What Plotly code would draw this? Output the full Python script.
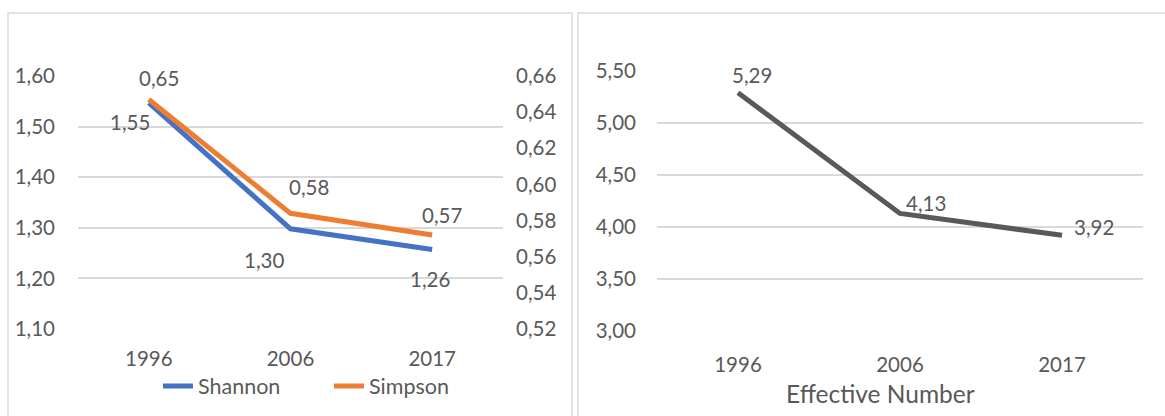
import plotly.graph_objects as go

years = ["1996", "2006", "2017"]
shannon = [1.547, 1.298, 1.257]
simpson = [0.647, 0.584, 0.572]
effective = [5.29, 4.13, 3.92]
shannon_labels = ["1,55", "1,30", "1,26"]
simpson_labels = ["0,65", "0,58", "0,57"]
effective_labels = ["5,29", "4,13", "3,92"]

W, H = 1165, 416
FONT = "Lato"
TXT = "#595959"
GRID = "#D9D9D9"
BLUE = "#4472C4"
ORANGE = "#ED7D31"
GRAY = "#595959"
FS = 20.5


def px_x(p):
    return p / W


def px_y(p):
    return 1 - p / H


fig = go.Figure()
fig.add_trace(go.Scatter(x=years, y=shannon, mode="lines", name="Shannon",
                         line=dict(color=BLUE, width=5), xaxis="x", yaxis="y"))
fig.add_trace(go.Scatter(x=years, y=simpson, mode="lines", name="Simpson",
                         line=dict(color=ORANGE, width=5), xaxis="x", yaxis="y2"))
fig.add_trace(go.Scatter(x=years, y=effective, mode="lines", name="Effective Number",
                         line=dict(color=GRAY, width=5), xaxis="x3", yaxis="y3",
                         showlegend=False))

annotations = []
sh_off = [(-19, -19), (-27, -31), (-2, -29)]
si_off = [(10, 21), (18, 26), (10, 20)]
ef_off = [(14, 18), (26, 10), (32, 8)]
lab_font = dict(family=FONT, size=FS, color=TXT)
for i in range(len(years)):
    annotations.append(dict(x=i, y=shannon[i], xref="x", yref="y", text=shannon_labels[i],
                            showarrow=False, xshift=sh_off[i][0], yshift=sh_off[i][1],
                            font=lab_font))
    annotations.append(dict(x=i, y=simpson[i], xref="x", yref="y2", text=simpson_labels[i],
                            showarrow=False, xshift=si_off[i][0], yshift=si_off[i][1],
                            font=lab_font))
    annotations.append(dict(x=i, y=effective[i], xref="x3", yref="y3", text=effective_labels[i],
                            showarrow=False, xshift=ef_off[i][0], yshift=ef_off[i][1],
                            font=lab_font))

annotations.append(dict(x=px_x(880), y=px_y(393), xref="paper", yref="paper",
                        xanchor="center", yanchor="middle", text="Effective Number",
                        showarrow=False, font=dict(family=FONT, size=24.5, color=TXT)))

shapes = [
    dict(type="rect", xref="paper", yref="paper", x0=px_x(8), x1=px_x(572),
         y0=px_y(440), y1=px_y(13), line=dict(color=GRID, width=1.5)),
    dict(type="rect", xref="paper", yref="paper", x0=px_x(578), x1=px_x(1190),
         y0=px_y(440), y1=px_y(13), line=dict(color=GRID, width=1.5)),
]

tickfont = dict(family=FONT, size=FS, color=TXT)
common_x = dict(type="category", range=[-0.5, 2.5], showgrid=False, zeroline=False,
                showline=False, ticks="", tickfont=tickfont, automargin=False)
common_y = dict(tickformat=".2f", zeroline=False, showline=False, ticks="",
                tickfont=tickfont, automargin=False)

fig.update_layout(
    width=W, height=H, autosize=False,
    margin=dict(l=0, r=0, t=0, b=0, pad=0),
    paper_bgcolor="white", plot_bgcolor="white",
    separators=", ",
    font=dict(family=FONT, size=FS, color=TXT),
    annotations=annotations, shapes=shapes,
    showlegend=True,
    legend=dict(orientation="h", x=px_x(158), y=px_y(386), xanchor="left", yanchor="middle",
                font=dict(family=FONT, size=21.5, color=TXT), bgcolor="rgba(0,0,0,0)",
                tracegroupgap=0, entrywidth=126, entrywidthmode="pixels"),
    xaxis=dict(common_x, domain=[px_x(78), px_x(503)], ticklabelstandoff=15, anchor="y"),
    yaxis=dict(common_y, domain=[px_y(329), px_y(76)], range=[1.10, 1.60], dtick=0.1,
               tick0=1.10, showgrid=True, gridcolor=GRID, gridwidth=1.5,
               ticklabelstandoff=22, anchor="x"),
    yaxis2=dict(common_y, domain=[px_y(329), px_y(76)], range=[0.52, 0.66], dtick=0.02,
                tick0=0.52, overlaying="y", side="right", showgrid=False,
                ticklabelstandoff=12, anchor="x"),
    xaxis3=dict(common_x, domain=[px_x(657), px_x(1143)], ticklabelstandoff=19, anchor="y3"),
    yaxis3=dict(common_y, domain=[px_y(331), px_y(71)], range=[3.0, 5.5], dtick=0.5,
                tick0=3.0, showgrid=True, gridcolor=GRID, gridwidth=1.5,
                ticklabelstandoff=20, anchor="x3"),
)

fig.write_html("out.html", config={"displayModeBar": False},
               post_script="document.body.style.margin='0';document.body.style.overflow='hidden';")
